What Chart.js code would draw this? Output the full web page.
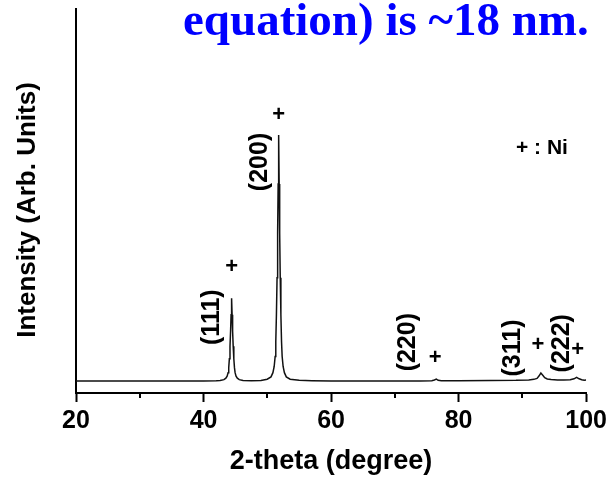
<!DOCTYPE html>
<html>
<head>
<meta charset="utf-8">
<script src="https://cdn.jsdelivr.net/npm/chart.js@4.4.1/dist/chart.umd.min.js"></script>
<style>
  html, body { margin: 0; padding: 0; background: #fff; }
  #xrd { display: block; }
</style>
</head>
<body>
<canvas id="xrd" width="611" height="479"></canvas>
<script>
// XRD pattern of Ni (2-theta in degree, intensity in arb. units)
const twoTheta = [20, 25, 30, 35, 40, 42, 42.6, 43.2, 43.5, 43.7, 43.85, 43.95, 44.05, 44.15, 44.24, 44.32, 44.4, 44.48, 44.56, 44.65,
  44.75, 44.85, 44.95, 45.1, 45.3, 45.6, 46.2, 47.5, 49, 49.98, 50.58, 50.88, 51.08, 51.23, 51.33, 51.43, 51.53, 51.62, 51.7,
  51.78, 51.86, 51.94, 52.03, 52.13, 52.23, 52.33, 52.48, 52.68, 52.98, 53.58, 55, 57, 60, 65, 70, 74, 75.8, 76.2, 76.5, 76.8,
  77.3, 80, 85, 89, 91, 91.8, 92.3, 92.6, 92.9, 93.2, 93.5, 93.9, 94.5, 95.5, 96.5, 97.5, 98.1, 98.5, 98.9, 99.3, 99.7, 100]
const intensity = [31, 31, 31, 31, 31.5, 32, 32.5, 34.7, 38.5, 44, 53, 66, 89, 122, 161, 204, 247, 204, 161, 122,
  89, 66, 53, 44, 38.5, 34.7, 32.5, 32, 32.5, 36, 42, 53, 69, 95, 134, 204, 300, 416, 544,
  672, 544, 416, 300, 204, 134, 95, 69, 53, 42, 36, 33, 32, 31.5, 31, 31, 31.5, 32, 34, 36, 33,
  32, 32, 32.5, 33, 34, 35.5, 38, 44, 52, 46, 40, 36.5, 35, 34, 34, 34.5, 37, 41, 37, 34.5, 33.5, 34]

const peakLabels = ['(111)', '(200)', '(220)', '(311)', '(222)']
const peakAngles = [44.4, 51.78, 76.5, 92.9, 98.5]
const peakHeights = [247, 672, 36, 52, 41]

const xTicks = [20, 40, 60, 80, 100]
const xMinorTicks = [30, 50, 70, 90]

const FONT = '"Liberation Sans", Arial, sans-serif'

// label / "+" placement relative to each peak top (pixels)
const labelOffsets = [[-19, 19], [-19, 27], [-28, -37], [-28, -25], [-14, -34]]
const plusOffsets = [[0, -31], [0, -20], [-1, -21], [-3, -28], [1, -27]]

const decorPlugin = {
  id: 'decor',
  afterDraw(chart) {
    const c = chart.ctx
    const xs = chart.scales.x
    const ys = chart.scales.y
    c.save()

    // minor ticks on the x axis
    c.strokeStyle = '#000'
    c.lineWidth = 2
    xMinorTicks.forEach(v => {
      const px = Math.round(xs.getPixelForValue(v))
      c.beginPath()
      c.moveTo(px, chart.chartArea.bottom)
      c.lineTo(px, chart.chartArea.bottom + 5)
      c.stroke()
    })

    // y axis title
    c.fillStyle = '#000'
    c.save()
    c.translate(28, 210)
    c.rotate(-Math.PI / 2)
    c.font = 'bold 26px ' + FONT
    c.textAlign = 'center'
    c.textBaseline = 'middle'
    c.fillText('Intensity (Arb. Units)', 0, 0)
    c.restore()

    // peak labels
    peakLabels.forEach((lab, i) => {
      const px = xs.getPixelForValue(peakAngles[i])
      const py = ys.getPixelForValue(peakHeights[i])
      c.save()
      c.translate(px + labelOffsets[i][0], py + labelOffsets[i][1])
      c.rotate(-Math.PI / 2)
      c.font = 'bold 25px ' + FONT
      c.textAlign = 'center'
      c.textBaseline = 'middle'
      c.fillText(lab, 0, 0)
      c.restore()

      c.font = 'bold 22px ' + FONT
      c.textAlign = 'center'
      c.textBaseline = 'middle'
      c.fillText('+', px + plusOffsets[i][0], py + plusOffsets[i][1])
    })

    // legend
    c.font = 'bold 21px ' + FONT
    c.textAlign = 'left'
    c.textBaseline = 'middle'
    c.fillText('+ : Ni', 516, 148)

    // slide heading fragment
    c.fillStyle = '#0000ff'
    c.font = 'bold 47px "Liberation Serif", "Times New Roman", serif'
    c.textAlign = 'left'
    c.textBaseline = 'alphabetic'
    c.fillText('equation) is ~18 nm.', 183, 35)

    c.restore()
  }
}

const ctx = document.getElementById('xrd')
new Chart(ctx, {
  type: 'line',
  data: {
    datasets: [{
      data: twoTheta.map((x, i) => ({ x: x, y: intensity[i] })),
      borderColor: '#111',
      borderWidth: 1.5,
      pointRadius: 0,
      tension: 0,
      fill: false
    }]
  },
  options: {
    responsive: false,
    animation: false,
    layout: { padding: { top: 9, right: 23, left: 0, bottom: 0 } },
    plugins: {
      legend: { display: false },
      tooltip: { enabled: false }
    },
    scales: {
      x: {
        type: 'linear',
        min: 20,
        max: 100,
        afterBuildTicks: s => { s.ticks = xTicks.map(v => ({ value: v })) },
        ticks: {
          color: '#000',
          font: { family: FONT, size: 25, weight: 'bold' },
          padding: 4,
          maxRotation: 0
        },
        grid: { drawOnChartArea: false, tickLength: 9, tickWidth: 2, tickColor: '#000' },
        border: { color: '#000', width: 2 },
        title: {
          display: true,
          text: '2-theta (degree)',
          color: '#000',
          font: { family: FONT, size: 27, weight: 'bold' },
          padding: { top: 0, bottom: 1 }
        },
        afterFit: s => { s.height = 86 }
      },
      y: {
        min: 0,
        max: 1000,
        ticks: { display: false },
        grid: { drawOnChartArea: false, drawTicks: false },
        border: { color: '#000', width: 2 },
        afterFit: s => { s.width = 76 }
      }
    }
  },
  plugins: [decorPlugin]
})
</script>
</body>
</html>
